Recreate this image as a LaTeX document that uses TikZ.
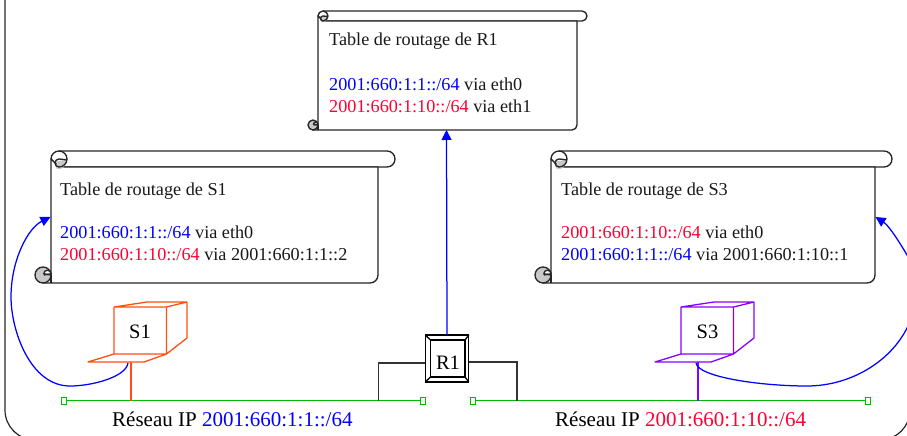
\documentclass[tikz,border=0pt]{standalone}
\usepackage{fontspec}
\setmainfont{Liberation Serif}
\usetikzlibrary{arrows.meta}
\definecolor{netblue}{RGB}{0,0,255}
\definecolor{netred}{RGB}{255,0,51}
\definecolor{netgreen}{RGB}{0,187,0}
\definecolor{compA}{RGB}{255,80,16}
\definecolor{compB}{RGB}{136,0,255}
\definecolor{curl}{RGB}{200,200,200}
\newcommand{\bl}[1]{\textcolor{netblue}{#1}}
\newcommand{\rd}[1]{\textcolor{netred}{#1}}
\tikzset{
  x=1pt,y=-1pt,
  scrollline/.style={draw=black!85,line width=1.35pt,line join=round},
  tabletext/.style={anchor=base west,inner sep=0pt,font=\fontsize{18.2}{18}\selectfont,text=black!90},
  netlabel/.style={anchor=base west,inner sep=0pt,font=\fontsize{21}{21}\selectfont},
  hostlabel/.style={anchor=base,inner sep=0pt,font=\fontsize{20.5}{21}\selectfont},
  netline/.style={draw=netgreen,line width=1.25pt},
  netend/.style={draw=netgreen,fill=white,line width=1.25pt,minimum width=5pt,minimum height=7pt,inner sep=0pt,outer sep=0pt},
  blueline/.style={draw=netblue,line width=1.25pt},
  bluearrow/.style={blueline,-{Triangle[length=10pt,width=10pt]}},
  wire/.style={draw=black!80,line width=1.3pt},
  hostline/.style={line width=1.3pt,line join=round},
}
% #1 left, #2 top, #3 body right, #4 strip right, #5 bottom, #6 curl radius
\newcommand{\scrollshape}[6]{%
  \path[scrollline,fill=white]
    (#1,#2+#6) arc[start angle=180,end angle=270,radius=#6*1pt,y radius=-#6*1pt]
    -- (#4-#6,#2) arc[start angle=90,end angle=-90,radius=#6*1pt]
    -- (#1+#6,#2+2*#6) -- cycle;
  \path[scrollline,fill=white]
    (#1,#2+#6) -- (#1,#5-#6) -- (#1-#6,#5) -- (#3-#6,#5)
    arc[start angle=-90,end angle=0,radius=#6*1pt]
    -- (#3,#2+2*#6) -- (#1+#6,#2+2*#6) -- cycle;
  % top curl
  \fill[curl] (#1+#6*.45,#2+#6*1.35) -- (#1+#6*1.9,#2+#6*1.1)
    arc[start angle=10,end angle=-90,radius=#6*1pt]
    arc[start angle=-90,end angle=-270,radius=#6*.35pt] -- cycle;
  \draw[scrollline] (#1+#6,#2) arc[start angle=90,end angle=-90,radius=#6*1pt]
    arc[start angle=270,end angle=90,radius=#6*.5pt]
    -- (#1+#6*1.9,#2+#6*1.1);
  % bottom curl
  \path[scrollline,fill=curl] (#1-#6,#5-#6) circle[radius=#6*1pt];
  \path[scrollline,fill=white] (#1-#6*.9,#5-#6*1.15) arc[start angle=180,end angle=0,radius=#6*.45pt]
    -- (#1,#5-#6) -- cycle;
  \draw[scrollline] (#1,#5-#6) -- (#1,#5);
  \draw[scrollline] (#1,#5-#6*1.15) -- (#1-#6*.9,#5-#6*1.0);
}
% #1 front left, #2 colour
\newcommand{\computer}[2]{%
  \draw[#2,hostline]
    (#1,307) rectangle (#1+52.5,354)
    (#1,307) -- (#1+33,302) -- (#1+73,302) -- (#1+52.5,307)
    (#1+73,302) -- (#1+73,338) -- (#1+52.5,354)
    (#1,354) -- (#1-26,362) -- (#1+30,362) -- (#1+52.5,354);
}
\begin{document}
\begin{tikzpicture}
\useasboundingbox (0,0) rectangle (907,436);
\begin{scope}
\clip (0,0) rectangle (907,436);

% frame
\draw[black!85,line width=1.2pt,rounded corners=30pt] (5,-40) rectangle (910,440);

% scrolls
\scrollshape{318}{11}{577}{587}{130}{5}
\scrollshape{51}{151}{378}{395}{283}{8}
\scrollshape{551}{151}{875}{892}{283}{8}

\coordinate (scrollR1) at (446.5,130);
\coordinate (scrollS1) at (50.5,217);
\coordinate (scrollS3) at (875.5,217);

% scroll texts
\node[tabletext] (t1a) at (329,46) {Table de routage de R1};
\node[tabletext] (t1b) at (329,90) {\bl{2001:660:1:1::/64} via eth0};
\node[tabletext] (t1c) at (329,112) {\rd{2001:660:1:10::/64} via eth1};
\node[tabletext] (t2a) at (60,195) {Table de routage de S1};
\node[tabletext] (t2b) at (60,238) {\bl{2001:660:1:1::/64} via eth0};
\node[tabletext] (t2c) at (60,260) {\rd{2001:660:1:10::/64} via 2001:660:1:1::2};
\node[tabletext] (t3a) at (561,195) {Table de routage de S3};
\node[tabletext] (t3b) at (561,238) {\rd{2001:660:1:10::/64} via eth0};
\node[tabletext] (t3c) at (561,260) {\bl{2001:660:1:1::/64} via 2001:660:1:10::1};

% networks
\node[netend] (n1l) at (64,400.7) {};
\node[netend] (n1r) at (423,400.7) {};
\node[netend] (n2l) at (473,400.7) {};
\node[netend] (n2r) at (868,400.7) {};
\draw[netline] (n1l) -- (n1r);
\draw[netline] (n2l) -- (n2r);
\node[netlabel] (l1) at (112,426) {Réseau IP \bl{2001:660:1:1::/64}};
\node[netlabel] (l2) at (555,426) {Réseau IP \rd{2001:660:1:10::/64}};

% hosts
\computer{114}{compA}
\computer{681}{compB}
\node[hostlabel] (s1) at (140,338) {S1};
\node[hostlabel] (s3) at (707.5,338) {S3};
\coordinate (s1base) at (131,362);
\coordinate (s3base) at (698,362);
\coordinate (s1tap) at (131,400.7);
\coordinate (s3tap) at (698,400.7);
\draw[compA,hostline] (s1base) -- (s1tap);
\draw[compB,hostline] (s3base) -- (s3tap);

% router
\node[draw=black,line width=1.4pt,fill=white,minimum width=43.5pt,minimum height=47pt,inner sep=0pt,outer sep=0pt] (r1) at (447,358.5) {};
\node[draw=black,line width=1.3pt,minimum width=34.5pt,minimum height=37pt,inner sep=0pt,outer sep=0pt] (r1i) at (447.8,358.5) {};
\draw[black,line width=1.3pt] (r1.north west) -- (r1i.north west) (r1.north east) -- (r1i.north east)
  (r1.south west) -- (r1i.south west) (r1.south east) -- (r1i.south east);
\node[hostlabel] (r1t) at (448,369) {R1};

% router wires
\coordinate (wl) at (378.5,400.7);
\coordinate (wr) at (517,400.7);
\draw[wire] (r1.west |- 0,363) -| (wl);
\draw[wire] (r1.east |- 0,362) -| (wr);

% routing arrows
\draw[bluearrow] (r1.north) -- (scrollR1);
\draw[bluearrow] (128,363) .. controls (126,377) and (92,386) .. (70,386)
  .. controls (30,386) and (11,330) .. (11,297)
  .. controls (11,260) and (28,228) .. (scrollS1);
\draw[bluearrow] (696,363) .. controls (698,377) and (760,386) .. (807,386)
  .. controls (850,386) and (890,362) .. (907,328)
  .. controls (925,292) and (922,280) .. (907,255)
  .. controls (897,238) and (888,225) .. (scrollS3);
\end{scope}
\end{tikzpicture}
\end{document}
